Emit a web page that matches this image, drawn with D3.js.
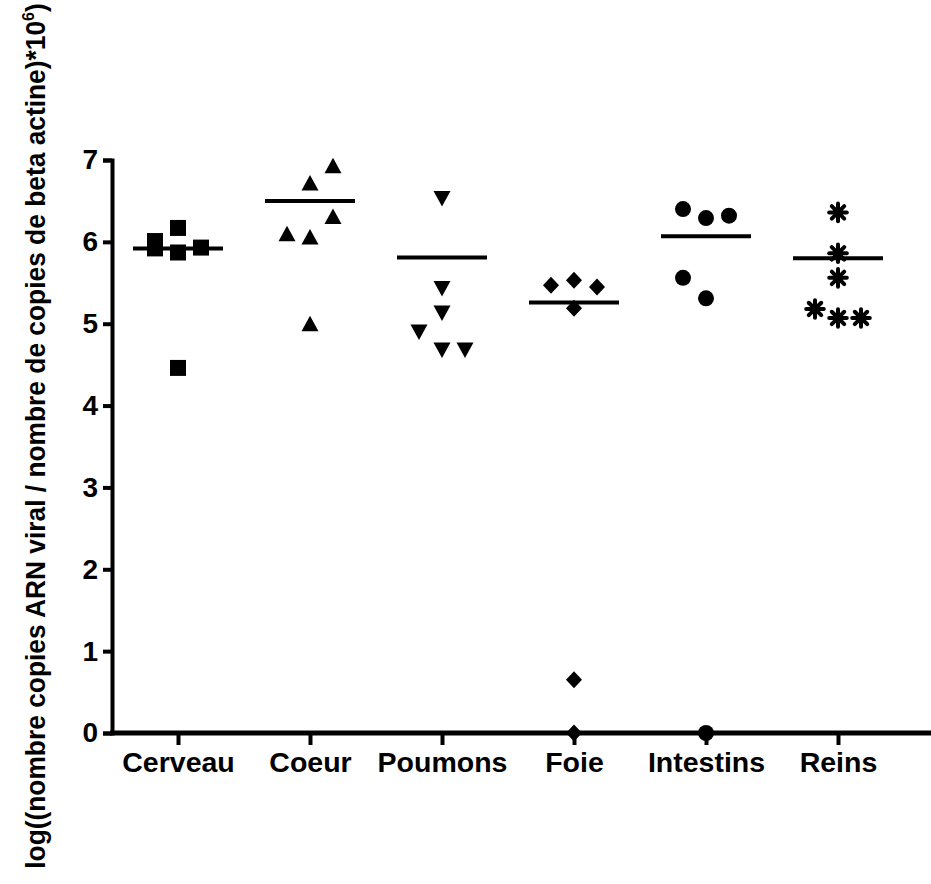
<!DOCTYPE html>
<html><head><meta charset="utf-8">
<script src="https://cdn.jsdelivr.net/npm/d3@7"></script>
<style>
body{margin:0;background:#fff}
svg{display:block}
text{font-family:"Liberation Sans",Arial,Helvetica,sans-serif;font-weight:bold;fill:#000}
</style>
</head><body><svg id="c" width="931" height="884"></svg>
<script>
// ---- data ----
const categories = ["Cerveau","Coeur","Poumons","Foie","Intestins","Reins"];
const symbolKinds = ["square","triangleUp","triangleDown","diamond","circle","asterisk"];
const cerveau   = [6.01, 5.92, 6.17, 5.87, 5.93, 4.46];
const coeur     = [6.93, 6.72, 6.31, 6.10, 6.06, 5.00];
const poumons   = [6.53, 5.43, 5.13, 4.90, 4.68, 4.68];
const foie      = [5.47, 5.53, 5.45, 5.19, 0.65, 0.00];
const intestins = [6.40, 6.29, 6.32, 5.56, 5.31, 0.00];
const reins     = [6.36, 5.86, 5.56, 5.18, 5.07, 5.07];
// column slot of each point within its group (-1 left, 0 centre, 1 right)
const cerveauSlots   = [-1,-1, 0, 0, 1, 0];
const coeurSlots     = [ 1, 0, 1,-1, 0, 0];
const poumonsSlots   = [ 0, 0, 0,-1, 0, 1];
const foieSlots      = [-1, 0, 1, 0, 0, 0];
const intestinsSlots = [-1, 0, 1,-1, 0, 0];
const reinsSlots     = [ 0, 0, 0,-1, 0, 1];
const means = [5.92, 6.50, 5.81, 5.26, 6.07, 5.80];
const yTicks = [0,1,2,3,4,5,6,7];
const yTitle = "log((nombre copies ARN viral / nombre de copies de beta actine)*10";
const yTitleSup = "6";

const groups = [cerveau, coeur, poumons, foie, intestins, reins];
const slots = [cerveauSlots, coeurSlots, poumonsSlots, foieSlots, intestinsSlots, reinsSlots];

// ---- layout ----
const svg = d3.select("#c");
const x = d3.scalePoint().domain(categories).range([112, 904]).padding(0.5);
const y = d3.scaleLinear().domain([0, 7]).range([733, 160]);
const slot = d3.scaleLinear().domain([-1, 1]).range([-23, 23]);

// y axis
const gy = svg.append("g").attr("transform", "translate(112,0)")
  .call(d3.axisLeft(y).tickValues(yTicks).tickFormat(d3.format("d")).tickSize(9).tickSizeOuter(9).tickPadding(5));
gy.selectAll("path,line").attr("stroke", "#000").attr("stroke-width", 4);
gy.select(".domain").attr("stroke-linejoin", "miter");
gy.selectAll("text").attr("font-size", 28).attr("font-family", "'Liberation Sans',Arial,sans-serif").attr("font-weight", "bold");

// x axis
const gx = svg.append("g").attr("transform", "translate(0,733)")
  .call(d3.axisBottom(x).tickSize(12).tickPadding(7));
gx.select(".domain").remove();
gx.selectAll("line").attr("stroke", "#000").attr("stroke-width", 4);
gx.selectAll("text").attr("font-size", 28.5).attr("font-family", "'Liberation Sans',Arial,sans-serif").attr("font-weight", "bold");
svg.append("line").attr("x1", 110).attr("x2", 931).attr("y1", y(0)).attr("y2", y(0))
  .attr("stroke", "#000").attr("stroke-width", 5);

// mean lines
svg.append("g").selectAll("line").data(means).join("line")
  .attr("x1", (d, i) => x(categories[i]) - 45)
  .attr("x2", (d, i) => x(categories[i]) + 45)
  .attr("y1", d => y(d)).attr("y2", d => y(d))
  .attr("stroke", "#000").attr("stroke-width", 4);

// symbols
function shapePath(kind) {
  switch (kind) {
    case "square": return "M-8,-8H8V8H-8Z";
    case "triangleUp": return "M0,-8L8.5,7.5L-8.5,7.5Z";
    case "triangleDown": return "M0,8L8.5,-7.5L-8.5,-7.5Z";
    case "diamond": return "M0,-8.5L8,0L0,8.5L-8,0Z";
    case "circle": return "M-8,0A8,8 0 1,0 8,0A8,8 0 1,0 -8,0Z";
  }
  return null;
}
const points = [];
groups.forEach((vals, gi) => vals.forEach((v, j) => points.push({g: gi, v, s: slots[gi][j]})));
const pts = svg.append("g").selectAll("g").data(points).join("g")
  .attr("transform", d => `translate(${x(categories[d.g]) + slot(d.s)},${y(d.v)})`);
pts.each(function(d) {
  const kind = symbolKinds[d.g];
  const sel = d3.select(this);
  if (kind === "asterisk") {
    const r = 8.8;
    for (let k = 0; k < 4; k++) {
      const a = k * Math.PI / 4;
      sel.append("line")
        .attr("x1", -r * Math.cos(a)).attr("y1", -r * Math.sin(a))
        .attr("x2", r * Math.cos(a)).attr("y2", r * Math.sin(a))
        .attr("stroke", "#000").attr("stroke-width", 4).attr("stroke-linecap", "round");
    }
    sel.append("circle").attr("r", 5).attr("fill", "#000");
  } else {
    sel.append("path").attr("d", shapePath(kind)).attr("fill", "#000");
  }
});

// y title
const t = svg.append("text").attr("font-size", 28)
  .attr("transform", "translate(45,436) rotate(-90)")
  .attr("text-anchor", "middle");
t.append("tspan").text(yTitle);
t.append("tspan").attr("font-size", 17).attr("dy", -11).text(yTitleSup);
t.append("tspan").attr("dy", 11).text(")");
const len = t.node().getComputedTextLength();
const sc = 866 / len;
t.attr("transform", `translate(45,436) rotate(-90) scale(${sc},1)`);
</script>
</body></html>
